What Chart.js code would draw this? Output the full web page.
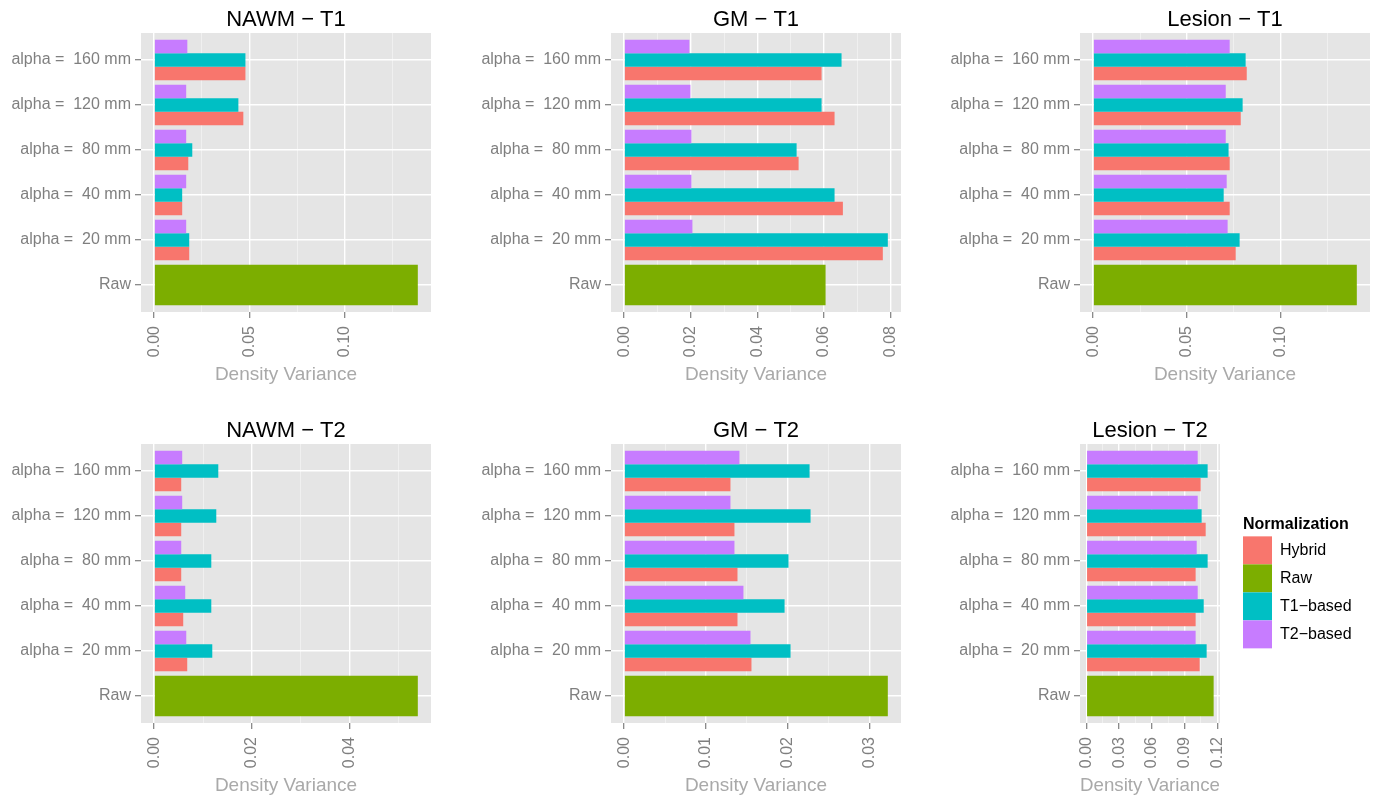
<!DOCTYPE html>
<html>
<head>
<meta charset="utf-8">
<title>Density Variance by Normalization</title>
<script src="https://cdn.jsdelivr.net/npm/chart.js@4.4.1/dist/chart.umd.min.js"></script>
<style>
  html, body { margin: 0; padding: 0; background: #ffffff; overflow: hidden; width: 1373px; height: 796px; }
  body { position: relative; }
  canvas { position: absolute; }
</style>
</head>
<body>
<canvas id="nawmT1"></canvas>
<canvas id="gmT1"></canvas>
<canvas id="lesionT1"></canvas>
<canvas id="nawmT2"></canvas>
<canvas id="gmT2"></canvas>
<canvas id="lesionT2"></canvas>
<script>
// ---- data ----------------------------------------------------------------
// categories, bottom to top
const categories = ['Raw', 'alpha =  20 mm', 'alpha =  40 mm', 'alpha =  80 mm', 'alpha =  120 mm', 'alpha =  160 mm'];
const seriesNames = ['Hybrid', 'Raw', 'T1\u2212based', 'T2\u2212based'];
const seriesColors = ['#F8766D', '#7CAE00', '#00BFC4', '#C77CFF'];
const panelTitles = ['NAWM \u2212 T1', 'GM \u2212 T1', 'Lesion \u2212 T1', 'NAWM \u2212 T2', 'GM \u2212 T2', 'Lesion \u2212 T2'];
const majorSteps = [0.05, 0.02, 0.05, 0.02, 0.01, 0.03];
const axisTitle = 'Density Variance';
const legendTitle = 'Normalization';

const nawmT1Hybrid = [null, 0.0184, 0.0147, 0.0179, 0.0468, 0.0479];
const nawmT1Raw    = [0.1384, null, null, null, null, null];
const nawmT1T1     = [null, 0.0184, 0.0147, 0.0200, 0.0442, 0.0479];
const nawmT1T2     = [null, 0.0168, 0.0168, 0.0168, 0.0168, 0.0174];

const gmT1Hybrid = [null, 0.0777, 0.0657, 0.0524, 0.0632, 0.0593];
const gmT1Raw    = [0.0605, null, null, null, null, null];
const gmT1T1     = [null, 0.0792, 0.0632, 0.0518, 0.0593, 0.0653];
const gmT1T2     = [null, 0.0205, 0.0202, 0.0202, 0.0199, 0.0196];

const lesionT1Hybrid = [null, 0.0760, 0.0728, 0.0728, 0.0787, 0.0819];
const lesionT1Raw    = [0.1406, null, null, null, null, null];
const lesionT1T1     = [null, 0.0781, 0.0696, 0.0722, 0.0797, 0.0813];
const lesionT1T2     = [null, 0.0717, 0.0712, 0.0707, 0.0707, 0.0728];

const nawmT2Hybrid = [null, 0.00677, 0.00595, 0.00554, 0.00554, 0.00554];
const nawmT2Raw    = [0.0540, null, null, null, null, null];
const nawmT2T1     = [null, 0.0119, 0.0117, 0.0117, 0.01272, 0.01313];
const nawmT2T2     = [null, 0.00657, 0.00636, 0.00554, 0.00574, 0.00574];

const gmT2Hybrid = [null, 0.01557, 0.01386, 0.01386, 0.01349, 0.0130];
const gmT2Raw    = [0.03225, null, null, null, null, null];
const gmT2T1     = [null, 0.02035, 0.01962, 0.0201, 0.0228, 0.02268];
const gmT2T2     = [null, 0.01545, 0.01459, 0.01349, 0.0130, 0.0141];

const lesionT2Hybrid = [null, 0.1038, 0.1001, 0.1001, 0.1093, 0.1047];
const lesionT2Raw    = [0.1166, null, null, null, null, null];
const lesionT2T1     = [null, 0.1102, 0.1075, 0.1111, 0.1056, 0.1111];
const lesionT2T2     = [null, 0.1001, 0.1020, 0.1011, 0.1020, 0.1020];

// ---- layout and style ----------------------------------------------------
const FONT = '"Liberation Sans", Arial, Helvetica, sans-serif';
const TEXT_GREY = '#7F7F7F';
const TITLE_GREY = '#A9A9A9';
const PANEL_BG = '#E5E5E5';
const Y_AXIS_W = 141;
const X_AXIS_H = 75;
// slot inside each group: lower order sits higher in the group
const slotOrder = [3, 0, 2, 1];

Chart.defaults.font.family = FONT;

const panels = [
  { id: 'nawmT1',   x: 0,   y: 0,   w: 431, h: 387, values: [nawmT1Hybrid, nawmT1Raw, nawmT1T1, nawmT1T2] },
  { id: 'gmT1',     x: 470, y: 0,   w: 431, h: 387, values: [gmT1Hybrid, gmT1Raw, gmT1T1, gmT1T2] },
  { id: 'lesionT1', x: 939, y: 0,   w: 431, h: 387, values: [lesionT1Hybrid, lesionT1Raw, lesionT1T1, lesionT1T2] },
  { id: 'nawmT2',   x: 0,   y: 411, w: 431, h: 387, values: [nawmT2Hybrid, nawmT2Raw, nawmT2T1, nawmT2T2] },
  { id: 'gmT2',     x: 470, y: 411, w: 431, h: 387, values: [gmT2Hybrid, gmT2Raw, gmT2T1, gmT2T2] },
  { id: 'lesionT2', x: 939, y: 411, w: 421, h: 387, values: [lesionT2Hybrid, lesionT2Raw, lesionT2T1, lesionT2T2], legend: true }
];

// grey panel behind the plotting area
const panelBackground = {
  id: 'panelBackground',
  beforeDraw(chart) {
    const { ctx, chartArea: a } = chart;
    ctx.save();
    ctx.fillStyle = PANEL_BG;
    ctx.fillRect(a.left, a.top, a.right - a.left, a.bottom - a.top);
    ctx.restore();
  }
};

// keeps the legend a fixed distance right of the panel, centred on it
const legendPlacement = {
  id: 'legendPlacement',
  afterLayout(chart) {
    const lg = chart.legend;
    if (!lg || !lg.options.display) return;
    const a = chart.chartArea;
    const w = 117;
    lg.left = a.right + 23;
    lg.right = lg.left + w;
    lg.width = w;
    lg.top = a.top - 1;
    lg.bottom = a.bottom - 1;
    lg.height = lg.bottom - lg.top;
  }
};

function makePanel(p, idx) {
  const canvas = document.getElementById(p.id);
  canvas.width = p.w;
  canvas.height = p.h;
  canvas.style.left = p.x + 'px';
  canvas.style.top = p.y + 'px';

  const major = majorSteps[idx];
  const minor = major / 2;
  const peak = Math.max(...p.values.flat().filter(v => v !== null));
  const xmin = -0.05 * peak;
  const xmax = 1.05 * peak;
  const isMajor = v => Math.abs(v / major - Math.round(v / major)) < 1e-6;
  const xTicks = [];
  for (let k = Math.ceil(xmin / minor - 1e-9); k * minor <= xmax + 1e-12; k++) {
    xTicks.push(Math.round(k * minor * 1e6) / 1e6);
  }

  const plotAreaW = p.legend ? 140 : p.w - Y_AXIS_W;
  const padRight = p.legend ? p.w - Y_AXIS_W - plotAreaW - 60 : 0;

  new Chart(canvas, {
    type: 'bar',
    data: {
      labels: categories.map((_, i) => i + 1),
      datasets: seriesNames.map((name, s) => ({
        label: name,
        data: p.values[s],
        backgroundColor: seriesColors[s],
        borderWidth: 0,
        order: slotOrder[s]
      }))
    },
    plugins: p.legend ? [panelBackground, legendPlacement] : [panelBackground],
    options: {
      responsive: false,
      animation: false,
      events: [],
      indexAxis: 'y',
      layout: { padding: { left: 0, top: 0, bottom: 0, right: padRight } },
      datasets: {
        bar: { barPercentage: 1, categoryPercentage: 0.9, skipNull: true, grouped: true }
      },
      scales: {
        x: {
          type: 'linear',
          position: 'bottom',
          min: xmin,
          max: xmax,
          bounds: 'data',
          offset: false,
          afterBuildTicks: s => { s.ticks = xTicks.map(v => ({ value: v })); },
          afterFit: s => { s.height = X_AXIS_H; s.paddingLeft = 0; s.paddingRight = 0; },
          border: { display: false },
          grid: {
            offset: false,
            color: c => (c.tick && isMajor(c.tick.value)) ? '#FFFFFF' : '#F2F2F2',
            lineWidth: c => (c.tick && isMajor(c.tick.value)) ? 1.4 : 0.8,
            tickColor: c => (c.tick && isMajor(c.tick.value)) ? TEXT_GREY : 'rgba(0,0,0,0)',
            tickLength: 6,
            tickWidth: 1.2
          },
          ticks: {
            autoSkip: false,
            minRotation: 90,
            maxRotation: 90,
            padding: 8,
            color: TEXT_GREY,
            font: { size: 16 },
            callback: v => isMajor(v) ? v.toFixed(2) : ''
          },
          title: {
            display: true,
            text: axisTitle,
            color: TITLE_GREY,
            font: { size: 19, lineHeight: '24px' },
            padding: 0
          }
        },
        y: {
          type: 'linear',
          position: 'left',
          min: 0.4,
          max: categories.length + 0.6,
          bounds: 'data',
          offset: false,
          afterBuildTicks: s => { s.ticks = categories.map((_, i) => ({ value: i + 1 })); },
          afterFit: s => { s.width = Y_AXIS_W; s.paddingTop = 0; s.paddingBottom = 0; },
          border: { display: false },
          grid: {
            offset: false,
            color: '#FFFFFF',
            lineWidth: 1.4,
            tickColor: TEXT_GREY,
            tickLength: 6,
            tickWidth: 1.2
          },
          ticks: {
            autoSkip: false,
            padding: 4,
            color: TEXT_GREY,
            font: { size: 16 },
            callback: v => categories[Math.round(v) - 1]
          }
        }
      },
      plugins: {
        tooltip: { enabled: false },
        title: {
          display: true,
          text: panelTitles[idx],
          color: '#000000',
          fullSize: false,
          font: { size: 22, weight: 'normal', lineHeight: '26px' },
          padding: { top: 7, bottom: 0 }
        },
        legend: {
          display: !!p.legend,
          position: 'right',
          align: 'center',
          maxWidth: 60,
          title: {
            display: true,
            text: legendTitle,
            position: 'start',
            color: '#000000',
            font: { size: 16, weight: 'bold' },
            padding: { top: 0, bottom: 0.5 }
          },
          labels: {
            boxWidth: 29,
            boxHeight: 28,
            padding: 0,
            color: '#000000',
            font: { size: 16 },
            sort: (a, b) => a.datasetIndex - b.datasetIndex
          }
        }
      }
    }
  });
}

panels.forEach(makePanel);
</script>
</body>
</html>
